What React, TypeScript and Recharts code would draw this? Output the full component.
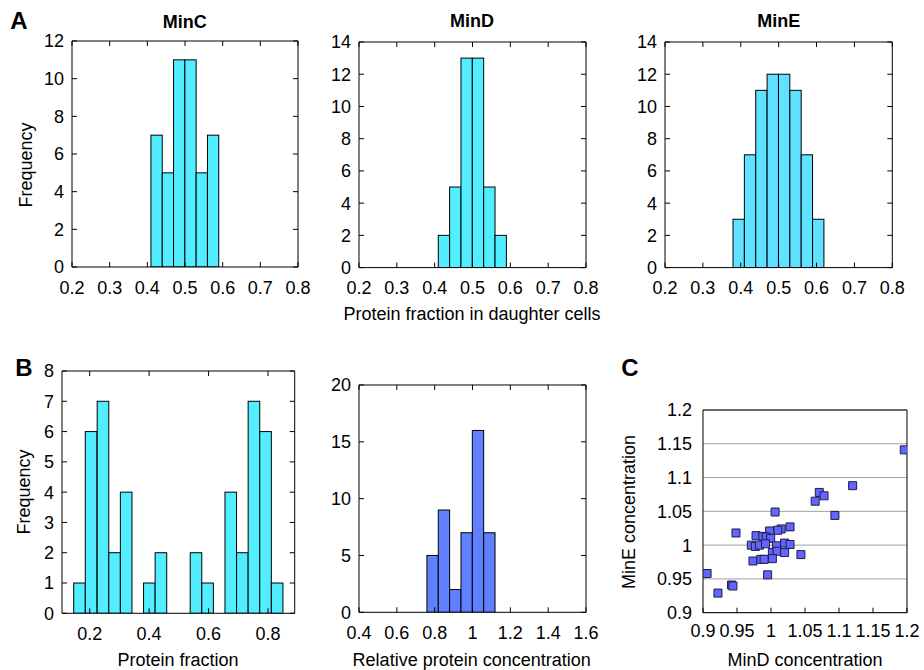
import React from "react";
import {
  BarChart,
  Bar,
  XAxis,
  YAxis,
  ScatterChart,
  Scatter,
  ZAxis,
  CartesianGrid,
} from "recharts";

// bin centres (20 bins spanning each x axis)
const fractionBins = [
  0.215, 0.245, 0.275, 0.305, 0.335, 0.365, 0.395, 0.425, 0.455, 0.485,
  0.515, 0.545, 0.575, 0.605, 0.635, 0.665, 0.695, 0.725, 0.755, 0.785,
];
const minCCounts = [0, 0, 0, 0, 0, 0, 0, 7, 5, 11, 11, 5, 7, 0, 0, 0, 0, 0, 0, 0];
const minDCounts = [0, 0, 0, 0, 0, 0, 0, 2, 5, 13, 13, 5, 2, 0, 0, 0, 0, 0, 0, 0];
const minECounts = [0, 0, 0, 0, 0, 0, 3, 7, 11, 12, 12, 11, 7, 3, 0, 0, 0, 0, 0, 0];
const fractionTicks = [0.2, 0.3, 0.4, 0.5, 0.6, 0.7, 0.8];

const spreadBins = [
  0.126, 0.165, 0.204, 0.244, 0.283, 0.322, 0.361, 0.4, 0.439, 0.478,
  0.518, 0.557, 0.596, 0.635, 0.674, 0.713, 0.752, 0.791, 0.83, 0.87,
];
const spreadCounts = [0, 1, 6, 7, 2, 4, 0, 1, 2, 0, 0, 2, 1, 0, 4, 2, 7, 6, 1, 0];
const spreadTicks = [0.2, 0.4, 0.6, 0.8];

const concBins = [
  0.43, 0.49, 0.55, 0.61, 0.67, 0.73, 0.79, 0.85, 0.91, 0.97,
  1.03, 1.09, 1.15, 1.21, 1.27, 1.33, 1.39, 1.45, 1.51, 1.57,
];
const concCounts = [0, 0, 0, 0, 0, 0, 5, 9, 2, 7, 16, 7, 0, 0, 0, 0, 0, 0, 0, 0];
const concTicks = [0.4, 0.6, 0.8, 1, 1.2, 1.4, 1.6];

// panel C: MinD vs MinE concentration
const minDConc = [
  1.196, 1.12, 1.071, 1.078, 1.065, 1.094, 1.006, 1.028, 1.015, 1.01, 0.998,
  0.9485, 0.978, 0.988, 0.993, 0.9995, 0.971, 0.977, 0.983, 0.992, 1.008, 1.02,
  1.028, 1.002, 1.009, 1.02, 1.044, 0.9735, 0.985, 0.99, 1.002, 0.995, 0.906,
  0.942, 0.944, 0.922,
];
const minEConc = [
  1.141, 1.088, 1.078, 1.073, 1.065, 1.044, 1.049, 1.027, 1.024, 1.022, 1.021,
  1.018, 1.014, 1.013, 1.012, 1.01, 1.0, 0.998, 1.0, 1.002, 0.999, 1.003,
  1.001, 0.989, 0.991, 0.989, 0.986, 0.9765, 0.979, 0.979, 0.98, 0.956, 0.958,
  0.941, 0.9395, 0.929,
];
const scatterTicks = [0.9, 0.95, 1, 1.05, 1.1, 1.15, 1.2];

const CYAN = "#52edff";
const blank = () => "";
const tickFont = { fill: "#000", fontSize: 18 };
const black = { stroke: "#000" };

type HistProps = {
  plot: number[]; // left, top, right, bottom in page pixels
  bins: number[];
  counts: number[];
  xDomain: number[];
  xTicks: number[];
  yMax: number;
  yTicks: number[];
  fill: string;
};

function Histogram({ plot, bins, counts, xDomain, xTicks, yMax, yTicks, fill }: HistProps) {
  const [L, T, R, B] = plot;
  const padL = 70, padT = 10, padR = 22, padB = 40;
  const data = bins.map((bin, i) => ({ bin, count: counts[i] }));
  // bar width = one bin, in pixels
  const binPx = ((bins[1] - bins[0]) / (xDomain[1] - xDomain[0])) * (R - L);

  const binShape = (p: any) => {
    if (!p.height || p.height <= 0) return <g />;
    const cx = p.x + p.width / 2;
    return (
      <rect
        x={cx - binPx / 2}
        y={p.y}
        width={binPx}
        height={p.height}
        fill={fill}
        stroke="#000"
        strokeWidth={1}
      />
    );
  };

  const xCommon = {
    dataKey: "bin",
    type: "number" as const,
    domain: xDomain,
    ticks: xTicks,
    allowDataOverflow: true,
    interval: 0 as const,
  };
  const yCommon = {
    dataKey: "count",
    type: "number" as const,
    domain: [0, yMax],
    ticks: yTicks,
    allowDataOverflow: true,
    interval: 0 as const,
  };

  return (
    <div style={{ position: "absolute", left: L - padL, top: T - padT }}>
      <BarChart
        width={R - L + padL + padR}
        height={B - T + padT + padB}
        data={data}
        margin={{ top: padT, right: padR, bottom: padB - 30, left: padL - 60 }}
        barCategoryGap={0}
        barGap={0}
      >
        <XAxis
          xAxisId="lab"
          {...xCommon}
          height={30}
          tickSize={0}
          tickMargin={14}
          tickLine={false}
          axisLine={black}
          tick={tickFont}
        />
        <XAxis
          xAxisId="inner"
          {...xCommon}
          mirror
          axisLine={false}
          tickSize={5}
          tickLine={black}
          tickFormatter={blank}
        />
        <XAxis
          xAxisId="top"
          orientation="top"
          {...xCommon}
          mirror
          axisLine={black}
          tickSize={5}
          tickLine={black}
          tickFormatter={blank}
        />
        <YAxis
          yAxisId="y"
          {...yCommon}
          width={60}
          tickSize={0}
          tickMargin={8}
          tickLine={false}
          axisLine={black}
          tick={tickFont}
        />
        <YAxis
          yAxisId="inner"
          {...yCommon}
          mirror
          axisLine={false}
          tickSize={5}
          tickLine={black}
          tickFormatter={blank}
        />
        <YAxis
          yAxisId="right"
          orientation="right"
          {...yCommon}
          mirror
          axisLine={black}
          tickSize={5}
          tickLine={black}
          tickFormatter={blank}
        />
        <Bar
          xAxisId="lab"
          yAxisId="y"
          dataKey="count"
          fill={fill}
          stroke="#000"
          strokeWidth={1}
          shape={binShape}
          isAnimationActive={false}
        />
      </BarChart>
    </div>
  );
}

function ConcScatter() {
  const [L, T, R, B] = [703, 410, 907, 612.7];
  const padL = 80, padT = 10, padR = 17, padB = 40;
  const data = minDConc.map((x, i) => ({ x, y: minEConc[i] }));
  const dom = [0.9, 1.2];
  return (
    <div style={{ position: "absolute", left: L - padL, top: T - padT }}>
      <ScatterChart
        width={R - L + padL + padR}
        height={B - T + padT + padB}
        margin={{ top: padT, right: padR, bottom: padB - 30, left: padL - 70 }}
      >
        <CartesianGrid xAxisId="lab" yAxisId="y" vertical={false} stroke="#a0a0a0" />
        <XAxis
          xAxisId="lab"
          dataKey="x"
          type="number"
          domain={dom}
          ticks={scatterTicks}
          allowDataOverflow
          interval={0}
          height={30}
          tickSize={0}
          tickMargin={12}
          tickLine={false}
          axisLine={black}
          tick={tickFont}
        />
        <XAxis
          xAxisId="inner"
          dataKey="x"
          type="number"
          domain={dom}
          ticks={scatterTicks}
          allowDataOverflow
          interval={0}
          mirror
          axisLine={false}
          tickSize={5}
          tickLine={black}
          tickFormatter={blank}
        />
        <XAxis
          xAxisId="top"
          orientation="top"
          dataKey="x"
          type="number"
          domain={dom}
          ticks={scatterTicks}
          allowDataOverflow
          mirror
          axisLine={black}
          tickLine={false}
          tickFormatter={blank}
        />
        <YAxis
          yAxisId="y"
          dataKey="y"
          type="number"
          domain={dom}
          ticks={scatterTicks}
          allowDataOverflow
          interval={0}
          width={70}
          tickSize={0}
          tickMargin={11}
          tickLine={false}
          axisLine={black}
          tick={tickFont}
        />
        <YAxis
          yAxisId="right"
          orientation="right"
          dataKey="y"
          type="number"
          domain={dom}
          ticks={scatterTicks}
          allowDataOverflow
          mirror
          axisLine={black}
          tickLine={false}
          tickFormatter={blank}
        />
        <ZAxis range={[60, 60]} />
        <Scatter
          xAxisId="lab"
          yAxisId="y"
          data={data}
          shape="square"
          fill="#6464ff"
          stroke="#1e1e46"
          strokeWidth={1}
          isAnimationActive={false}
        />
      </ScatterChart>
    </div>
  );
}

function Txt({ x, y, size = 18, bold = false, rotate = false, children }: any) {
  return (
    <div
      style={{
        position: "absolute",
        left: x - 200,
        top: y - size / 2,
        width: 400,
        height: size,
        lineHeight: `${size}px`,
        fontSize: size,
        fontWeight: bold ? "bold" : "normal",
        textAlign: "center",
        whiteSpace: "nowrap",
        transform: rotate ? "rotate(-90deg)" : undefined,
      }}
    >
      {children}
    </div>
  );
}

export default function App() {
  return (
    <div
      style={{
        position: "absolute",
        left: 0,
        top: 0,
        width: 924,
        height: 670,
        overflow: "hidden",
        background: "#fff",
        color: "#000",
        fontFamily: '"Liberation Sans", Arial, sans-serif',
      }}
    >
      {/* A: protein fraction in daughter cells */}
      <Histogram
        plot={[71.7, 41.3, 297.7, 267.3]}
        bins={fractionBins}
        counts={minCCounts}
        xDomain={[0.2, 0.8]}
        xTicks={fractionTicks}
        yMax={12}
        yTicks={[0, 2, 4, 6, 8, 10, 12]}
        fill={CYAN}
      />
      <Histogram
        plot={[358.7, 41.7, 585.7, 267.3]}
        bins={fractionBins}
        counts={minDCounts}
        xDomain={[0.2, 0.8]}
        xTicks={fractionTicks}
        yMax={14}
        yTicks={[0, 2, 4, 6, 8, 10, 12, 14]}
        fill={CYAN}
      />
      <Histogram
        plot={[665, 41.7, 892.3, 267.3]}
        bins={fractionBins}
        counts={minECounts}
        xDomain={[0.2, 0.8]}
        xTicks={fractionTicks}
        yMax={14}
        yTicks={[0, 2, 4, 6, 8, 10, 12, 14]}
        fill="#5ee2ff"
      />

      {/* B */}
      <Histogram
        plot={[62.3, 371, 295, 613.3]}
        bins={spreadBins}
        counts={spreadCounts}
        xDomain={[0.1068, 0.8898]}
        xTicks={spreadTicks}
        yMax={8}
        yTicks={[0, 1, 2, 3, 4, 5, 6, 7, 8]}
        fill={CYAN}
      />
      <Histogram
        plot={[358.7, 385, 585.7, 612.3]}
        bins={concBins}
        counts={concCounts}
        xDomain={[0.4, 1.6]}
        xTicks={concTicks}
        yMax={20}
        yTicks={[0, 5, 10, 15, 20]}
        fill="#6080ff"
      />

      {/* C */}
      <ConcScatter />

      <Txt x={19} y={21} size={24} bold>A</Txt>
      <Txt x={24} y={368} size={24} bold>B</Txt>
      <Txt x={630} y={368} size={24} bold>C</Txt>

      <Txt x={184.7} y={21.5} bold>MinC</Txt>
      <Txt x={472} y={21} bold>MinD</Txt>
      <Txt x={778.7} y={21} bold>MinE</Txt>

      <Txt x={25.5} y={165} rotate>Frequency</Txt>
      <Txt x={472} y={314}>Protein fraction in daughter cells</Txt>
      <Txt x={23.5} y={492} rotate>Frequency</Txt>
      <Txt x={178} y={660}>Protein fraction</Txt>
      <Txt x={471.7} y={660}>Relative protein concentration</Txt>
      <Txt x={629} y={511.5} rotate>MinE concentration</Txt>
      <Txt x={805} y={660}>MinD concentration</Txt>
    </div>
  );
}
